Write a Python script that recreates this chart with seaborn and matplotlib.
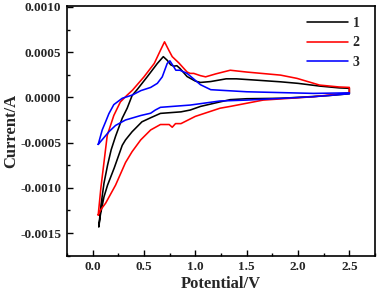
import numpy as np
import pandas as pd
import matplotlib
matplotlib.use("Agg")
import matplotlib.pyplot as plt
import seaborn as sns
from matplotlib.ticker import MultipleLocator, FormatStrFormatter

# ---- data (potential in V, current in 1e-3 A) ----
pot_1 = [0.06, 0.08, 0.11, 0.145, 0.18, 0.223, 0.288, 0.336, 0.384, 0.436, 0.533, 0.63, 0.688,
         0.726, 0.76, 0.79, 0.82, 0.85, 0.92, 1.0, 1.05, 1.15, 1.3, 1.4, 1.6, 1.83, 2.0, 2.21, 2.4, 2.5,
         2.5, 2.3, 2.0, 1.83, 1.5, 1.34, 1.24, 1.05, 0.95, 0.86, 0.66, 0.565, 0.48, 0.384, 0.32,
         0.288, 0.21, 0.145, 0.11, 0.075, 0.06]
cur_1 = [-1.43, -1.2, -0.95, -0.75, -0.58, -0.43, -0.23, -0.12, 0.02, 0.09, 0.23, 0.375, 0.45,
         0.41, 0.36, 0.345, 0.35, 0.32, 0.23, 0.18, 0.165, 0.175, 0.205, 0.205, 0.19, 0.172, 0.155, 0.125, 0.105, 0.10,
         0.04, 0.02, 0.0, -0.01, -0.015, -0.025, -0.05, -0.10, -0.14, -0.16, -0.177, -0.225, -0.27, -0.38, -0.47,
         -0.53, -0.78, -0.97, -1.1, -1.3, -1.43]

pot_2 = [0.054, 0.08, 0.11, 0.142, 0.206, 0.27, 0.336, 0.388, 0.5, 0.6, 0.66, 0.70, 0.742, 0.775,
         0.84, 0.92, 0.95, 0.985, 1.05, 1.1, 1.2, 1.34, 1.5, 1.83, 1.99, 2.21, 2.4, 2.5,
         2.5, 2.15, 1.66, 1.34, 1.24, 1.0, 0.86, 0.807, 0.775, 0.745, 0.66, 0.565, 0.468, 0.384,
         0.32, 0.223, 0.126, 0.08, 0.054]
cur_2 = [-1.30, -1.0, -0.72, -0.42, -0.2, -0.05, 0.025, 0.08, 0.227, 0.375, 0.52, 0.614, 0.52, 0.45,
         0.38, 0.28, 0.265, 0.265, 0.24, 0.227, 0.26, 0.30, 0.28, 0.246, 0.21, 0.136, 0.115, 0.11,
         0.05, 0.007, -0.03, -0.10, -0.12, -0.21, -0.29, -0.29, -0.33, -0.30, -0.30, -0.36, -0.47, -0.60,
         -0.72, -0.97, -1.17, -1.24, -1.30]

pot_3 = [0.054, 0.093, 0.126, 0.158, 0.206, 0.288, 0.384, 0.47, 0.565, 0.63, 0.678, 0.726, 0.752,
         0.79, 0.81, 0.85, 0.87, 0.92, 1.05, 1.15, 1.5, 2.15, 2.5,
         2.5, 2.15, 1.5, 1.24, 0.95, 0.66, 0.61, 0.565, 0.47, 0.32, 0.223, 0.158, 0.054]
cur_3 = [-0.52, -0.36, -0.27, -0.18, -0.08, -0.01, 0.025, 0.075, 0.11, 0.155, 0.227, 0.375, 0.404,
         0.338, 0.30, 0.30, 0.29, 0.265, 0.14, 0.085, 0.062, 0.044, 0.05,
         0.04, 0.007, -0.03, -0.04, -0.085, -0.11, -0.14, -0.175, -0.20, -0.25, -0.31, -0.38, -0.52]

labels = ["1", "2", "3"]
colors = ["black", "red", "blue"]

frames = []
for lab, p, c in zip(labels, [pot_1, pot_2, pot_3], [cur_1, cur_2, cur_3]):
    frames.append(pd.DataFrame({"Potential": p, "Current": np.array(c) * 1e-3, "Sample": lab}))
df = pd.concat(frames, ignore_index=True)

sns.set_theme(style="ticks")
plt.rcParams["font.family"] = ["Liberation Serif", "DejaVu Serif"]
plt.rcParams["font.weight"] = "bold"

fig = plt.figure(figsize=(3.78, 2.94), dpi=100)
ax = fig.add_axes([67 / 378, 1 - 255.7 / 294, 308 / 378, 249.7 / 294])

sns.lineplot(data=df, x="Potential", y="Current", hue="Sample", units="Sample",
             estimator=None, sort=False, palette=colors, linewidth=1.15, ax=ax)

ax.set_xlim(-0.25, 2.75)
ax.set_ylim(-0.00175, 0.00101)
ax.xaxis.set_major_locator(MultipleLocator(0.5))
ax.xaxis.set_minor_locator(MultipleLocator(0.25))
ax.yaxis.set_major_locator(MultipleLocator(0.0005))
ax.yaxis.set_minor_locator(MultipleLocator(0.00025))
ax.xaxis.set_major_formatter(FormatStrFormatter("%.1f"))
ax.yaxis.set_major_formatter(FormatStrFormatter("%.4f"))

ax.tick_params(which="both", direction="in", top=False, right=False,
               labelsize=9.5, width=1.0, color="black")
ax.tick_params(which="major", length=4, pad=4)
ax.tick_params(which="minor", length=2)
for lbl in ax.get_xticklabels() + ax.get_yticklabels():
    lbl.set_fontweight("bold")

for s in ax.spines.values():
    s.set_visible(True)
    s.set_linewidth(1.2)
    s.set_color("black")

ax.set_xlabel("Potential/V", fontsize=12, fontweight="bold", labelpad=2)
ax.set_ylabel("Current/A", fontsize=12, fontweight="bold", labelpad=1)

handles, lbls = ax.get_legend_handles_labels()
ax.legend(handles, lbls, loc="upper left", bbox_to_anchor=(0.778, 0.955),
          frameon=False, handlelength=3.0, handletextpad=0.3, labelspacing=0.45,
          borderpad=0, borderaxespad=0, prop={"size": 10, "weight": "bold"})

fig.savefig("out.png", dpi=100)
